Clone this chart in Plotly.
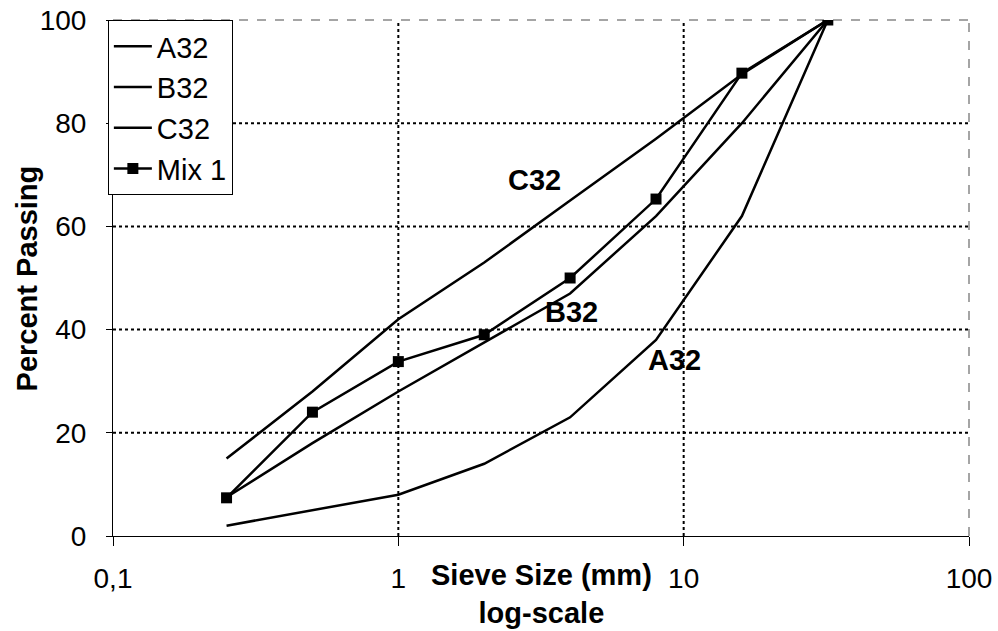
import math
import plotly.graph_objects as go

sieve = [0.25, 0.5, 1, 2, 4, 8, 16, 32]
a32 = [2, 5, 8, 14, 23, 38, 62, 100]
b32 = [7.5, 18, 28, 37.5, 47, 62, 80, 100]
c32 = [15, 28, 42, 53, 65, 77, 89.5, 100]
mix1 = [7.4, 24, 33.8, 39, 50, 65.3, 89.7, 100]

x_ticks = [0.1, 1, 10, 100]
x_ticktext = ["0,1", "1", "10", "100"]
y_ticks = [0, 20, 40, 60, 80, 100]
x_grid = [1, 10]
y_grid = [20, 40, 60, 80]

labels = [("C32", 3.0, 69), ("B32", 4.06, 43.4), ("A32", 9.3, 34.1)]

FONT = "Liberation Sans, Arial, sans-serif"
FS = 28

fig = go.Figure()
series = [("A32", a32, False), ("B32", b32, False), ("C32", c32, False), ("Mix 1", mix1, True)]
for name, vals, mk in series:
    fig.add_trace(go.Scatter(
        x=sieve, y=vals, name=name,
        mode="lines+markers" if mk else "lines",
        line=dict(color="black", width=2.5),
        marker=dict(symbol="square", size=11, color="black"),
    ))

shapes = []
for gx in x_grid:
    shapes.append(dict(type="line", xref="x", yref="paper", x0=gx, x1=gx, y0=0, y1=1,
                       line=dict(color="black", width=2, dash="dot"), layer="below"))
for gy in y_grid:
    shapes.append(dict(type="line", xref="paper", yref="y", x0=0, x1=1, y0=gy, y1=gy,
                       line=dict(color="black", width=2, dash="dot"), layer="below"))
shapes.append(dict(type="line", xref="paper", yref="paper", x0=0, x1=1, y0=1, y1=1,
                   line=dict(color="#888888", width=1.5, dash="dash"), layer="below"))
shapes.append(dict(type="line", xref="paper", yref="paper", x0=1, x1=1, y0=0, y1=1,
                   line=dict(color="#888888", width=1.5, dash="dash"), layer="below"))

annotations = []
for txt, lx, ly in labels:
    annotations.append(dict(x=math.log10(lx), y=ly, xref="x", yref="y", text=f"<b>{txt}</b>",
                            showarrow=False, font=dict(size=29, color="black", family=FONT)))
annotations.append(dict(x=0.5, y=-0.04, xref="paper", yref="paper",
                        text="<b>Sieve Size (mm)<br>log-scale</b>", showarrow=False,
                        xanchor="center", yanchor="top",
                        font=dict(size=29, color="black", family=FONT)))
annotations.append(dict(x=-0.1, y=0.5, xref="paper", yref="paper",
                        text="<b>Percent Passing</b>", showarrow=False, textangle=-90,
                        xanchor="center", yanchor="middle",
                        font=dict(size=29, color="black", family=FONT)))

fig.update_layout(
    width=998, height=631,
    margin=dict(l=113, r=29, t=20, b=95, autoexpand=False),
    paper_bgcolor="white", plot_bgcolor="white",
    font=dict(family=FONT, size=FS, color="black"),
    shapes=shapes, annotations=annotations,
    showlegend=True,
    legend=dict(x=-0.006, y=1.0, xanchor="left", yanchor="top",
                bgcolor="white", bordercolor="black", borderwidth=1,
                font=dict(size=29, family=FONT), itemwidth=38),
    xaxis=dict(type="log", range=[-1, 2], tickvals=x_ticks, ticktext=x_ticktext,
               showgrid=False, zeroline=False, showline=True, linecolor="black", linewidth=1,
               ticks="outside", ticklen=9, tickcolor="black", tickfont=dict(size=FS),
               ticklabelstandoff=8, automargin=False),
    yaxis=dict(range=[0, 100], tickvals=y_ticks, showgrid=False, zeroline=False,
               showline=True, linecolor="black", linewidth=1,
               ticks="outside", ticklen=6, tickcolor="black", tickfont=dict(size=FS),
               ticklabelstandoff=14, automargin=False),
)

fig.write_html("out.html")
